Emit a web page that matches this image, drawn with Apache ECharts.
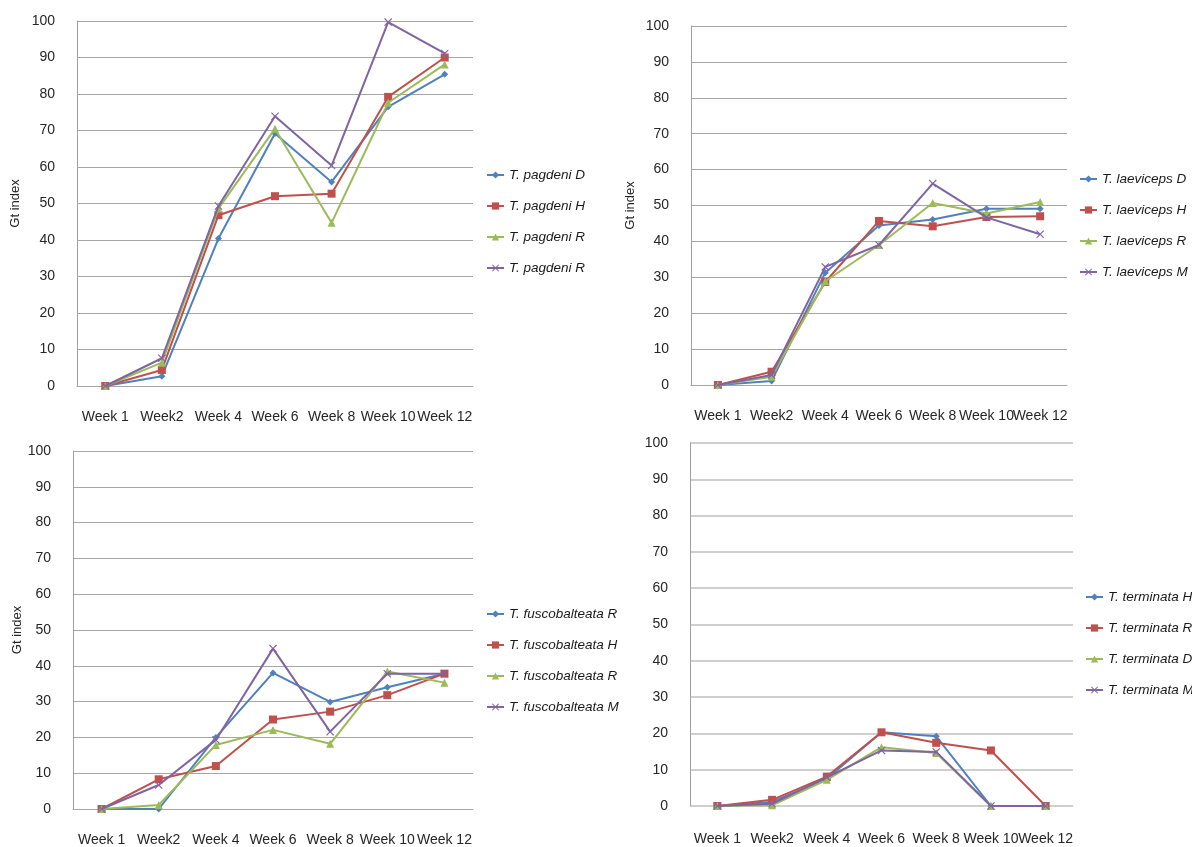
<!DOCTYPE html>
<html>
<head>
<meta charset="utf-8">
<title>Gt index</title>
<script src="https://cdn.jsdelivr.net/npm/echarts@6.0.0/dist/echarts.min.js"></script>
<style>
  html, body { margin: 0; padding: 0; background: #fff; }
  #main { width: 1192px; height: 847px; }
</style>
</head>
<body>
<div id="main"></div>
<script>
    var weeks = ['Week 1', 'Week2', 'Week 4', 'Week 6', 'Week 8', 'Week 10', 'Week 12'];
    var yTicks = [0, 10, 20, 30, 40, 50, 60, 70, 80, 90, 100];

    // T. pagdeni
    var pagdeniNames = ['T. pagdeni D', 'T. pagdeni H', 'T. pagdeni R', 'T. pagdeni R#2'];
    var pagdeniD = [0, 2.7, 40.4, 69.2, 55.9, 76.5, 85.4];
    var pagdeniH = [0, 4.4, 46.8, 52.0, 52.7, 79.2, 90.0];
    var pagdeniR = [0, 6.4, 48.6, 70.5, 44.7, 77.6, 88.1];
    var pagdeniR2 = [0, 7.6, 49.3, 73.9, 60.4, 99.7, 91.1];

    // T. laeviceps
    var laevicepsNames = ['T. laeviceps D', 'T. laeviceps H', 'T. laeviceps R', 'T. laeviceps M'];
    var laevicepsD = [0, 1.1, 31.3, 44.4, 46.1, 49.1, 49.1];
    var laevicepsH = [0, 3.7, 28.7, 45.7, 44.2, 46.8, 47.0];
    var laevicepsR = [0, 2.3, 28.9, 39.0, 50.7, 47.8, 51.0];
    var laevicepsM = [0, 2.8, 32.9, 39.0, 56.1, 46.7, 42.0];

    // T. fuscobalteata
    var fuscoNames = ['T. fuscobalteata R', 'T. fuscobalteata H', 'T. fuscobalteata R#2', 'T. fuscobalteata M'];
    var fuscoR = [0, 0, 20.0, 38.0, 29.9, 34.0, 37.8];
    var fuscoH = [0, 8.3, 12.0, 25.0, 27.2, 31.8, 37.8];
    var fuscoR2 = [0, 1.1, 17.9, 22.1, 18.2, 38.4, 35.3];
    var fuscoM = [0, 6.7, 19.3, 44.8, 21.6, 37.8, 37.8];

    // T. terminata
    var terminataNames = ['T. terminata H', 'T. terminata R', 'T. terminata D', 'T. terminata M'];
    var terminataH = [0, 1.1, 7.5, 20.3, 19.2, 0, 0];
    var terminataR = [0, 1.7, 8.1, 20.3, 17.4, 15.3, 0];
    var terminataD = [0, 0.2, 7.2, 16.2, 14.6, 0, 0];
    var terminataM = [0, 0.6, 7.9, 15.3, 14.9, 0, 0];

    var colors = ['#4f81bd', '#c0504d', '#9bbb59', '#8064a2'];
    var xMark = 'path://M0,1L1,0L5,4L9,0L10,1L6,5L10,9L9,10L5,6L1,10L0,9L4,5Z';
    var symbols = ['diamond', 'rect', 'triangle', xMark];
    var symbolSizes = [7, 8, 8, 8];

    var font = '"Liberation Sans", Arial, sans-serif';

    // grid boxes, one per panel
    var grids = [
        {left: 77, top: 21, width: 396, height: 365},
        {left: 691, top: 26, width: 376, height: 359},
        {left: 73, top: 451, width: 400, height: 358},
        {left: 690, top: 443, width: 383, height: 363}
    ];
    var splitColors = ['#a6a6a6', '#a6a6a6', '#a6a6a6', '#cfcfcf'];
    var nameGaps = [55, 54, 49, 0];
    var showName = [true, true, true, false];

    var xAxes = [], yAxes = [];
    for (var i = 0; i < 4; i++) {
        xAxes.push({
            type: 'category',
            gridIndex: i,
            data: weeks,
            boundaryGap: true,
            axisLine: {lineStyle: {color: splitColors[i], width: 1}},
            axisTick: {show: false},
            axisLabel: {interval: 0, margin: i == 3 ? 26 : 24, fontSize: 14, color: '#262626', fontFamily: font}
        });
        yAxes.push({
            type: 'value',
            gridIndex: i,
            min: yTicks[0],
            max: yTicks[yTicks.length - 1],
            interval: 10,
            name: showName[i] ? 'Gt index' : '',
            nameLocation: 'middle',
            nameRotate: 90,
            nameGap: nameGaps[i],
            nameTextStyle: {fontSize: 13, color: '#262626', fontFamily: font},
            axisLine: {show: true, lineStyle: {color: '#a0a0a0', width: 1}},
            axisTick: {show: false},
            axisLabel: {margin: 22, fontSize: 14, color: '#262626', fontFamily: font},
            splitLine: {show: true, lineStyle: {color: splitColors[i], width: i == 3 ? 2 : 1}}
        });
    }

    var panelData = [
        [pagdeniD, pagdeniH, pagdeniR, pagdeniR2],
        [laevicepsD, laevicepsH, laevicepsR, laevicepsM],
        [fuscoR, fuscoH, fuscoR2, fuscoM],
        [terminataH, terminataR, terminataD, terminataM]
    ];
    var panelNames = [pagdeniNames, laevicepsNames, fuscoNames, terminataNames];

    var series = [];
    for (var p = 0; p < 4; p++) {
        for (var s = 0; s < 4; s++) {
            series.push({
                name: panelNames[p][s],
                type: 'line',
                xAxisIndex: p,
                yAxisIndex: p,
                data: panelData[p][s],
                symbol: symbols[s],
                symbolSize: symbolSizes[s],
                showAllSymbol: true,
                color: colors[s],
                lineStyle: {width: 2, color: colors[s]},
                itemStyle: {color: colors[s]},
                z: 2 + s
            });
        }
    }

    var legendPos = [
        {left: 486, top: 168},
        {left: 1079, top: 172},
        {left: 486, top: 607},
        {left: 1085, top: 590}
    ];
    var legends = [];
    for (var k = 0; k < 4; k++) {
        legends.push({
            data: panelNames[k],
            left: legendPos[k].left,
            top: legendPos[k].top,
            orient: 'vertical',
            padding: 0,
            itemWidth: 17,
            itemHeight: 9,
            itemGap: 17,
            selectedMode: false,
            formatter: function (name) { return name.split('#')[0]; },
            textStyle: {fontSize: 13.5, fontStyle: 'italic', color: '#1a1a1a', fontFamily: font}
        });
    }

    var option = {
        backgroundColor: '#ffffff',
        animation: false,
        grid: grids,
        xAxis: xAxes,
        yAxis: yAxes,
        legend: legends,
        series: series
    };
    var myChart = echarts.init(document.getElementById('main'));
    myChart.setOption(option);
</script>
</body>
</html>
